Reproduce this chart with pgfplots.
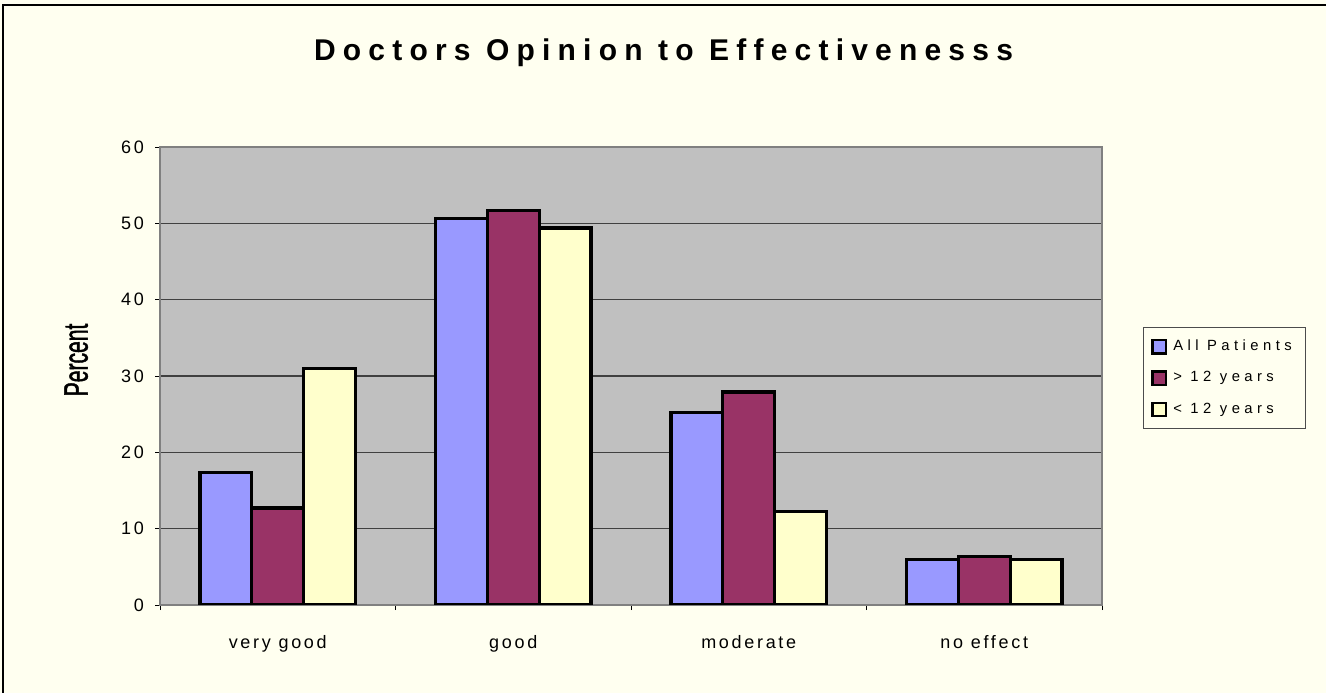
\documentclass[border=0pt]{standalone}
\usepackage{pgfplots}
\pgfplotsset{compat=1.18}
\usepackage{fontspec}
\setmainfont{Liberation Sans}
\newfontfamily\spacedfont[LetterSpace=15]{Liberation Sans}
\newfontfamily\widefont[LetterSpace=30]{Liberation Sans}
\newfontfamily\titlefont[LetterSpace=24]{Liberation Sans}
\newfontfamily\narrowfont[FakeStretch=0.62,FakeBold=1.2]{Liberation Sans}

\definecolor{bgcol}{RGB}{255,255,240}
\definecolor{plotbg}{RGB}{192,192,192}
\definecolor{allp}{RGB}{153,153,255}
\definecolor{older}{RGB}{153,51,102}
\definecolor{younger}{RGB}{255,255,204}

\begin{document}
\begin{tikzpicture}
% page and frame
\fill[bgcol] (0,0) rectangle (663bp,346.5bp);
\path[use as bounding box] (0,0) rectangle (663bp,346.5bp);
\draw[black, line width=0.8bp] (1.5bp,0) -- (1.5bp,344bp) -- (663bp,344bp);

\node[font=\titlefont\bfseries\fontsize{15bp}{17bp}\selectfont] at (331.75bp,320bp)
  {Doctors Opinion to Effectivenesss};

\begin{axis}[
    at={(80bp,44bp)}, anchor=south west,
    scale only axis,
    width=471bp, height=229bp,
    ybar=0pt, bar width=0.22,
    xmin=-0.5, xmax=3.5,
    ymin=0, ymax=60,
    ytick={0,10,...,60},
    xtick={0,1,2,3},
    xticklabels={very good, good, moderate, no effect},
    minor xtick={-0.5,0.5,1.5,2.5,3.5},
    major x tick style={draw=none},
    xtick pos=bottom, ytick pos=left,
    tick align=outside,
    tick style={black, line width=0.5bp},
    major tick length=2.5bp, minor tick length=2.5bp,
    ymajorgrids,
    grid style={black!75, line width=0.6bp},
    axis background/.style={fill=plotbg},
    axis line style={draw=black!50, line width=1bp},
    /pgf/number format/assume math mode=true,
    ticklabel style={font=\spacedfont\fontsize{9bp}{11bp}\selectfont},
    yticklabel style={xshift=-2bp},
    xticklabel style={yshift=-9bp},
    ylabel={Percent},
    ylabel style={at={(axis description cs:-0.089,0.535)}, anchor=center,
        font=\narrowfont\fontsize{17bp}{19bp}\selectfont},
    legend style={at={(1.0435,0.4956)}, anchor=west, draw=black!70,
        fill=bgcol, line width=0.5bp,
        font=\widefont\fontsize{7.4bp}{9bp}\selectfont,
        row sep=5bp, inner xsep=4bp, inner ysep=4bp,
        nodes={inner xsep=3bp}},
    legend cell align=left,
    legend image code/.code={
        \draw[#1, line width=1.3bp] (0bp,-3.3bp) rectangle (6.6bp,3.3bp);},
    every axis plot/.append style={draw=black, line width=1.6bp},
]
\addplot[fill=allp] coordinates {(0,17.4) (1,50.6) (2,25.2) (3,6.0)};
\addplot[fill=older] coordinates {(0,12.7) (1,51.7) (2,27.9) (3,6.4)};
\addplot[fill=younger] coordinates {(0,31.0) (1,49.4) (2,12.2) (3,6.0)};
\legend{All Patients, > 12 years, < 12 years}
\end{axis}
\end{tikzpicture}
\end{document}
